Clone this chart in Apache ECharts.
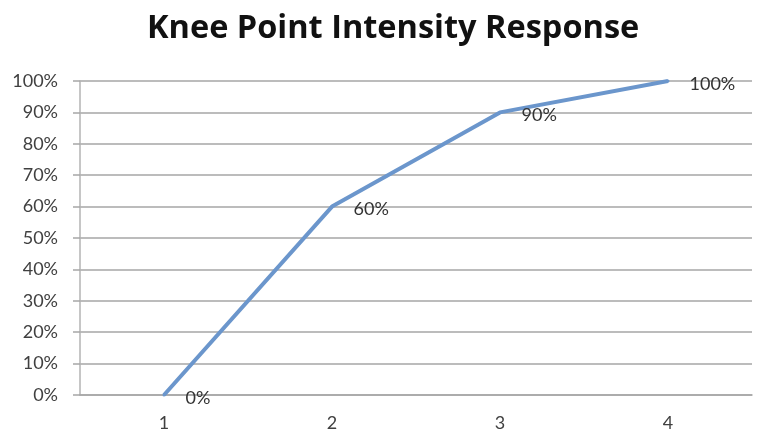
<!DOCTYPE html>
<html>
<head>
<meta charset="utf-8">
<script src="https://cdn.jsdelivr.net/npm/echarts@6/dist/echarts.min.js"></script>
<style>
  html, body { margin: 0; padding: 0; background: #fff; }
  #chart { width: 757px; height: 432px; }
</style>
</head>
<body>
<div id="chart"></div>
<script>
// Knee point response: intensity share at each step
const categories = ['1', '2', '3', '4'];
const responseValues = [0, 60, 90, 100];
const yTicks = [0, 10, 20, 30, 40, 50, 60, 70, 80, 90, 100];

const chart = echarts.init(document.getElementById('chart'), null, { renderer: 'canvas' });

chart.setOption({
  animation: false,
  backgroundColor: '#ffffff',
  title: {
    text: 'Knee Point Intensity Response',
    left: 142,
    top: 7,
    textStyle: {
      fontFamily: 'Open Sans',
      fontWeight: 'bold',
      fontSize: 32.5,
      color: '#111111'
    }
  },
  grid: { left: 80, right: 5, top: 81, bottom: 35, containLabel: false },
  xAxis: {
    type: 'category',
    data: categories,
    boundaryGap: true,
    axisLine: { show: true, lineStyle: { color: '#a6a6a6', width: 1.5 } },
    axisTick: { show: false },
    axisLabel: { margin: 19, fontFamily: 'Lato', fontSize: 18, color: '#404040' },
    splitLine: { show: false }
  },
  yAxis: {
    type: 'value',
    min: yTicks[0],
    max: yTicks[yTicks.length - 1],
    interval: 10,
    axisLine: { show: true, lineStyle: { color: '#b3b3b3', width: 1.5 } },
    axisTick: { show: true, length: 7, lineStyle: { color: '#a6a6a6', width: 1.5 } },
    axisLabel: {
      margin: 22,
      fontFamily: 'Lato',
      fontSize: 18,
      color: '#404040',
      formatter: v => v + '%'
    },
    splitLine: { show: true, lineStyle: { color: '#a6a6a6', width: 1.5 } }
  },
  series: [{
    type: 'line',
    data: responseValues,
    showSymbol: true,
    symbol: 'circle',
    symbolSize: 3,
    lineStyle: { color: '#6b96cc', width: 4 },
    itemStyle: { color: '#6b96cc' },
    label: {
      show: true,
      position: 'right',
      distance: 20,
      offset: [0, 3],
      fontFamily: 'Lato',
      fontSize: 18,
      color: '#333333',
      formatter: p => p.value + '%'
    }
  }]
});
</script>
</body>
</html>
